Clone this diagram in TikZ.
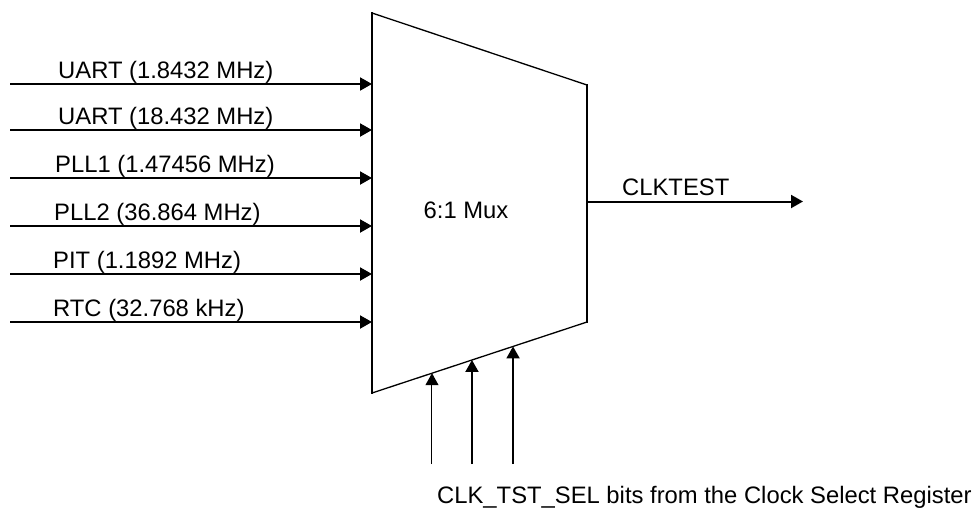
\documentclass[tikz,border=0pt]{standalone}
\usepackage{fontspec}
\setmainfont{Liberation Sans}
\usepackage{tikz}
\usetikzlibrary{arrows.meta,positioning,calc}

\begin{document}
\begin{tikzpicture}[
  x=1pt, y=-1pt,
  lbl/.style={inner sep=0pt, anchor=base west, font=\fontsize{23.8}{26}\selectfont},
  muxedge/.style={line width=2pt, line cap=rect},
  muxslant/.style={line width=1.3pt},
  sig/.style={-{Triangle[length=12pt, width=13pt]}, line width=2pt},
  thinsig/.style={-{Triangle[length=12pt, width=13pt]}, line width=1pt}
]
\useasboundingbox (0,0) rectangle (977,507);

% mux body
\coordinate (tl) at (372,13);
\coordinate (tr) at (587,85);
\coordinate (br) at (587,322);
\coordinate (bl) at (372,393);
\draw[muxedge] (tl) -- (bl);
\draw[muxedge] (tr) -- (br);
\draw[muxslant] (tl) -- (tr);
\draw[muxslant] (bl) -- (br);
\node[lbl, anchor=base] (muxname) at (466,218) {6:1 Mux};

% clock inputs
\foreach \n/\y/\lx/\txt in {1/84/58/{UART (1.8432 MHz)},
                            2/130/58/{UART (18.432 MHz)},
                            3/178/55/{PLL1 (1.47456 MHz)},
                            4/226/54/{PLL2 (36.864 MHz)},
                            5/274/53/{PIT (1.1892 MHz)},
                            6/322/53/{RTC (32.768 kHz)}} {
  \coordinate (src\n) at (10,\y);
  \coordinate (in\n) at (372,\y);
  \draw[sig] (src\n) -- (in\n);
  \node[lbl] (name\n) at (\lx,\y-5.5) {\txt};
}

% output
\coordinate (out) at (587,201.5);
\coordinate (outend) at (803,201.5);
\draw[sig] (out) -- (outend);
\node[lbl] (clktest) at (622,195) {CLKTEST};

% select bits
\coordinate (selbase) at (0,464);
\foreach \n/\t in {1/0.279,2/0.465,3/0.656}
  \coordinate (sel\n) at ($(bl)!\t!(br)$);
\draw[thinsig] (sel1 |- selbase) -- (sel1);
\draw[sig] (sel2 |- selbase) -- (sel2);
\draw[sig] (sel3 |- selbase) -- (sel3);
\node[lbl] (selname) at (437,503) {CLK\_TST\_SEL bits from the Clock Select Register};
\end{tikzpicture}
\end{document}
